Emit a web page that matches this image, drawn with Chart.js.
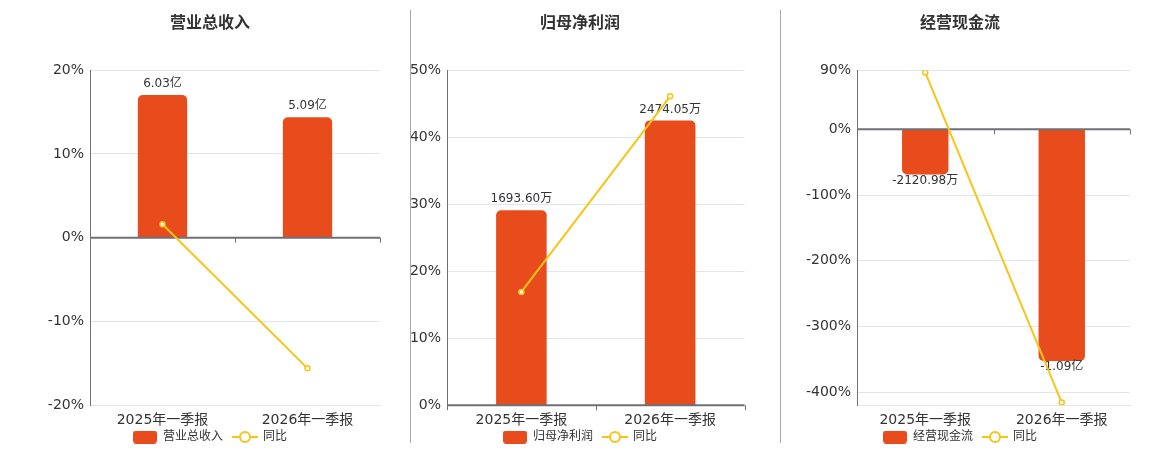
<!DOCTYPE html>
<html lang="zh-CN">
<head>
    <meta charset="UTF-8">
    <title>季报对比</title>
    <style>
        body { margin: 0; background: #fff; }
        .board { position: relative; width: 1160px; height: 450px; }
        .panel { position: absolute; top: 0; height: 450px; }
        .sep { position: absolute; top: 10px; width: 1px; height: 433px; background: #a8a8a8; z-index: 2; }
    </style>
</head>
<body>
    <div class="board">
        <div class="panel" style="left:0;width:420px"><canvas id="revenueChart"></canvas></div>
        <div class="panel" style="left:410px;width:340px"><canvas id="profitChart"></canvas></div>
        <div class="panel" style="left:780px;width:360px"><canvas id="cashChart"></canvas></div>
        <div class="sep" style="left:410px"></div>
        <div class="sep" style="left:780px"></div>
    </div>

    <script src="https://cdn.jsdelivr.net/npm/chart.js"></script>
    <script>
        // data (bar values in 万元, yoy in %)
        const categories = ['2025年一季报', '2026年一季报'];

        const revenueValues = [60300, 50900];
        const revenueText = ['6.03亿', '5.09亿'];
        const revenueYoY = [1.6, -15.6];
        const revenueTicks = [-20, -10, 0, 10, 20];

        const profitValues = [1693.60, 2474.05];
        const profitText = ['1693.60万', '2474.05万'];
        const profitYoY = [16.9, 46.1];
        const profitTicks = [0, 10, 20, 30, 40, 50];

        const cashValues = [-2120.98, -10900];
        const cashText = ['-2120.98万', '-1.09亿'];
        const cashYoY = [86.6, -416];
        const cashTicks = [-400, -300, -200, -100, 0, 90];

        const BAR = '#e84c1c';
        const LINE = '#f5c518';
        const AXIS = '#6e7079';
        const GRID = '#e0e6f1';

        Chart.defaults.font.family = '"DejaVu Sans", "Noto Sans CJK SC", sans-serif';
        Chart.defaults.color = '#333';

        // legend icons
        function barIcon() {
            const c = document.createElement('canvas');
            c.width = 24; c.height = 13;
            const g = c.getContext('2d');
            g.fillStyle = BAR;
            g.beginPath();
            g.roundRect(0, 0, 24, 13, 3);
            g.fill();
            return c;
        }
        function lineIcon() {
            const c = document.createElement('canvas');
            c.width = 26; c.height = 14;
            const g = c.getContext('2d');
            g.strokeStyle = LINE;
            g.lineWidth = 2;
            g.beginPath(); g.moveTo(0, 7); g.lineTo(26, 7); g.stroke();
            g.fillStyle = '#fff';
            g.beginPath(); g.arc(13, 7, 5, 0, Math.PI * 2); g.fill(); g.stroke();
            return c;
        }
        const icons = [barIcon(), lineIcon()];

        // zero axis line + bar value labels, drawn right after the bars
        const barExtras = {
            id: 'barExtras',
            afterLayout(chart) {
                // pull the legend a bit closer to the axis labels
                chart.legend.top -= 15;
            },
            afterDatasetDraw(chart, args, opts) {
                if (args.index !== 0) return;
                const ctx = chart.ctx;
                const area = chart.chartArea;
                const zero = chart.scales.y.getPixelForValue(0);
                const n = chart.data.labels.length;
                ctx.save();
                ctx.strokeStyle = AXIS;
                ctx.lineWidth = 2;
                ctx.beginPath();
                ctx.moveTo(area.left, zero);
                ctx.lineTo(area.right, zero);
                ctx.stroke();
                ctx.lineWidth = 1;
                for (let i = 0; i <= n; i++) {
                    const x = Math.round(area.left + i * (area.right - area.left) / n) + 0.5;
                    ctx.beginPath();
                    ctx.moveTo(x, zero);
                    ctx.lineTo(x, zero + 5);
                    ctx.stroke();
                }
                ctx.font = '12px "DejaVu Sans", "Noto Sans CJK SC", sans-serif';
                ctx.fillStyle = '#333';
                ctx.textAlign = 'center';
                ctx.textBaseline = 'middle';
                args.meta.data.forEach((bar, i) => {
                    const neg = chart.data.datasets[0].data[i] < 0;
                    ctx.fillText(opts.texts[i], bar.x, neg ? bar.y + 6 : bar.y - 11);
                });
                ctx.restore();
            }
        };

        function makeChart(id, cfg) {
            const ctx = document.getElementById(id).getContext('2d');
            return new Chart(ctx, {
                type: 'bar',
                data: {
                    labels: categories,
                    datasets: [{
                        type: 'bar',
                        label: cfg.name,
                        data: cfg.values,
                        yAxisID: 'yb',
                        order: 1,
                        backgroundColor: BAR,
                        borderRadius: 5,
                        barPercentage: 0.34,
                        categoryPercentage: 1
                    }, {
                        type: 'line',
                        label: '同比',
                        data: cfg.yoy,
                        yAxisID: 'y',
                        order: 0,
                        borderColor: LINE,
                        borderWidth: 2,
                        pointRadius: 2.5,
                        pointBorderWidth: 1.5,
                        pointBackgroundColor: '#fff',
                        pointBorderColor: LINE
                    }]
                },
                options: {
                    responsive: false,
                    animation: false,
                    layout: { padding: { bottom: -18 } },
                    plugins: {
                        title: {
                            display: true,
                            text: cfg.name,
                            color: '#333',
                            font: { size: 16, weight: 'bold' },
                            padding: { top: 14, bottom: 37 }
                        },
                        legend: {
                            position: 'bottom',
                            labels: {
                                usePointStyle: true,
                                pointStyleWidth: 24,
                                color: '#333',
                                font: { size: 12 },
                                padding: 10,
                                sort: (a, b) => a.datasetIndex - b.datasetIndex,
                                generateLabels(chart) {
                                    const items = Chart.defaults.plugins.legend.labels.generateLabels(chart);
                                    items.forEach(it => { it.pointStyle = icons[it.datasetIndex]; });
                                    return items;
                                }
                            }
                        },
                        tooltip: { enabled: true },
                        barExtras: { texts: cfg.text }
                    },
                    scales: {
                        x: {
                            grid: { display: false, drawTicks: false },
                            border: { display: true, color: GRID },
                            ticks: { font: { size: 14 }, color: '#333', padding: 7 }
                        },
                        y: {
                            position: 'left',
                            min: cfg.min,
                            max: cfg.max,
                            afterBuildTicks: s => { s.ticks = cfg.ticks.map(v => ({ value: v })); },
                            afterFit: s => { s.width = cfg.leftW; },
                            grid: { color: GRID, drawTicks: false },
                            border: { color: AXIS },
                            ticks: { font: { size: 14 }, color: '#333', padding: 6, callback: v => v + '%' }
                        },
                        yb: {
                            position: 'right',
                            min: cfg.min * cfg.k,
                            max: cfg.max * cfg.k,
                            afterFit: s => { s.width = cfg.rightW; },
                            grid: { display: false },
                            border: { display: false },
                            ticks: { display: false }
                        }
                    }
                },
                plugins: [barExtras]
            });
        }

        function setup(id, w) {
            const c = document.getElementById(id);
            c.width = w; c.height = 450;
        }
        setup('revenueChart', 420);
        setup('profitChart', 340);
        setup('cashChart', 360);

        makeChart('revenueChart', {
            name: '营业总收入', values: revenueValues, text: revenueText, yoy: revenueYoY,
            ticks: revenueTicks, min: -20, max: 20, k: 3537, leftW: 90, rightW: 40
        });
        makeChart('profitChart', {
            name: '归母净利润', values: profitValues, text: profitText, yoy: profitYoY,
            ticks: profitTicks, min: 0, max: 50, k: 58.2, leftW: 37, rightW: 0
        });
        makeChart('cashChart', {
            name: '经营现金流', values: cashValues, text: cashText, yoy: cashYoY,
            ticks: cashTicks, min: -420, max: 90, k: 30.9, leftW: 77, rightW: 10
        });
    </script>
</body>
</html>
